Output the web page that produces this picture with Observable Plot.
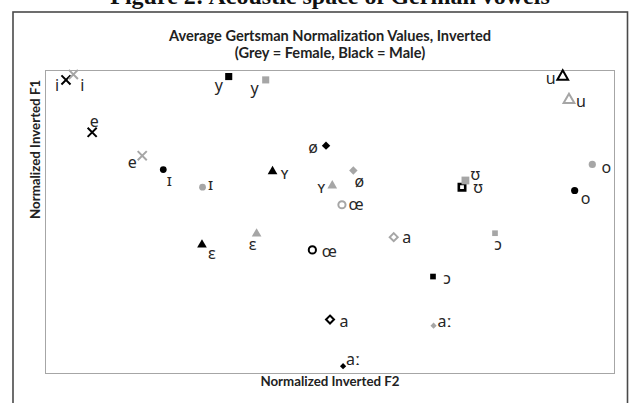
<!DOCTYPE html>
<html>
<head>
<meta charset="utf-8">
<script src="https://cdn.jsdelivr.net/npm/d3@7"></script>
<script src="https://cdn.jsdelivr.net/npm/@observablehq/plot@0.6"></script>
<style>
  body { margin: 0; background: white; }
</style>
</head>
<body>
<script>
// ---- DATA (Gerstman-normalized, inverted) ----
const vowels   = ["i", "y", "e", "ɪ", "ʏ", "ø", "œ", "ɛ", "a", "aː", "ɔ", "ʊ", "u", "o"];
const maleF2   = [36, 322, 82, 207, 399, 493, 469, 275, 500, 523, 681, 732, 909, 930];
const maleF1   = [969, 980, 796, 673, 667, 752, 408, 425, 178, 24, 320, 615, 980, 604];
const femaleF2 = [49, 387, 170, 276, 504, 541, 521, 371, 612, 682, 790, 738, 920, 961];
const femaleF1 = [987, 969, 719, 615, 620, 670, 557, 461, 450, 158, 463, 637, 903, 690];
const titleText    = "Average Gertsman Normalization Values, Inverted";
const subtitleText = "(Grey = Female, Black = Male)";
const captionText  = "Figure 2: Acoustic space of German vowels";
const xLabel = "Normalized Inverted F2";
const yLabel = "Normalized Inverted F1";

// ---- STYLE / LAYOUT ----
const colors = { male: "#000000", female: "#a6a6a6" };
const markerStyle = {
  "i":  { symbol: "times",    r: 4.2, stroke: true,  sw: 2 },
  "e":  { symbol: "times",    r: 4.2, stroke: true,  sw: 2 },
  "y":  { symbol: "square",   r: 4.0 },
  "ɪ":  { symbol: "circle",   r: 3.4 },
  "ʏ":  { symbol: "triangle", r: 3.6 },
  "ɛ":  { symbol: "triangle", r: 3.6 },
  "ø":  { symbol: "diamond2", r: 3.8 },
  "œ":  { symbol: "circle",   r: 3.6, stroke: true, sw: 2 },
  "a":  { symbol: "diamond2", r: 3.6, stroke: true, sw: 2 },
  "aː": { symbol: "diamond2", r: 2.8 },
  "ɔ":  { symbol: "square",   r: 3.2 },
  "ʊ":  { symbol: "square",   r: 4.4 },
  "u":  { symbol: "triangle", r: 4.0, stroke: true, sw: 2 },
  "o":  { symbol: "circle",   r: 3.6 }
};
const labelOffsets = {
  male: {
    "i": [-9, 6], "y": [-10, 9], "e": [2, -10], "ɪ": [6, 11], "ʏ": [12, 2], "ø": [-13, 2], "œ": [17, 2],
    "ɛ": [10, 9], "a": [14, 2], "aː": [10, -6], "ɔ": [14, 2], "ʊ": [16, 1], "u": [-12, 2], "o": [11, 8]
  },
  female: {
    "i": [9, 11], "y": [-11, 9], "e": [-10, 7], "ɪ": [8, -2], "ʏ": [-11, 2], "ø": [6, 11], "œ": [14, 0],
    "ɛ": [-4, 11], "a": [13, 1], "aː": [11, -4], "ɔ": [3, 12], "ʊ": [10, -6], "u": [12, 2], "o": [14, 3]
  }
};

const rows = [];
vowels.forEach((v, i) => rows.push({ vowel: v, sex: "male", f2: maleF2[i], f1: maleF1[i] }));
vowels.forEach((v, i) => rows.push({ vowel: v, sex: "female", f2: femaleF2[i], f1: femaleF1[i] }));

const marks = [];
// outer figure border (extends past the bottom of the picture)
marks.push(Plot.frame({ stroke: "#4a4a4a", strokeWidth: 1.6, insetLeft: -32.5, insetTop: -58.5, insetRight: -13, insetBottom: -60 }));
// inner plot frame
marks.push(Plot.frame({ stroke: "#a6a6a6", strokeWidth: 1 }));

for (const d of rows) {
  const s = markerStyle[d.vowel];
  const c = colors[d.sex];
  const opts = { x: "f2", y: "f1", symbol: s.symbol, r: s.r };
  if (s.stroke) {
    opts.stroke = c; opts.strokeWidth = s.sw;
    opts.fill = s.symbol === "times" ? "none" : "white";
  } else {
    opts.fill = c; opts.stroke = "none";
    if (d.vowel === "ʊ" && d.sex === "male") { opts.fill = "white"; opts.stroke = c; opts.strokeWidth = 2.6; opts.r = 3.6; }
  }
  marks.push(Plot.dot([d], opts));
}
for (const d of rows) {
  const [dx, dy] = labelOffsets[d.sex][d.vowel];
  marks.push(Plot.text([d], {
    x: "f2", y: "f1", text: "vowel", dx, dy,
    fontFamily: "Noto Sans", fontSize: 16, fill: "#262626"
  }));
}
// titles & axis labels
marks.push(Plot.text([captionText], { frameAnchor: "top", dy: -67, lineAnchor: "bottom", fontFamily: "Liberation Serif", fontWeight: "bold", fontSize: 24, fill: "#111" }));
marks.push(Plot.text([titleText], { frameAnchor: "top", dy: -40, fontFamily: "Lato", fontWeight: "bold", fontSize: 14.6, fill: "#222" }));
marks.push(Plot.text([subtitleText], { frameAnchor: "top", dy: -23, fontFamily: "Lato", fontWeight: "bold", fontSize: 14.6, fill: "#222" }));
marks.push(Plot.text([xLabel], { frameAnchor: "bottom", dy: 12, fontFamily: "Lato", fontWeight: "bold", fontSize: 13.3, fill: "#222" }));
marks.push(Plot.text([yLabel], { frameAnchor: "left", dx: -10, dy: -3, rotate: -90, fontFamily: "Lato", fontWeight: "bold", fontSize: 13.3, fill: "#222" }));

const chart = Plot.plot({
  width: 633,
  height: 403,
  marginTop: 70,
  marginRight: 19,
  marginBottom: 30,
  marginLeft: 45,
  x: { domain: [0, 1000], axis: null },
  y: { domain: [0, 1000], axis: null },
  style: { background: "white", fontFamily: "Lato" },
  marks
});
document.body.appendChild(chart);
</script>
</body>
</html>
